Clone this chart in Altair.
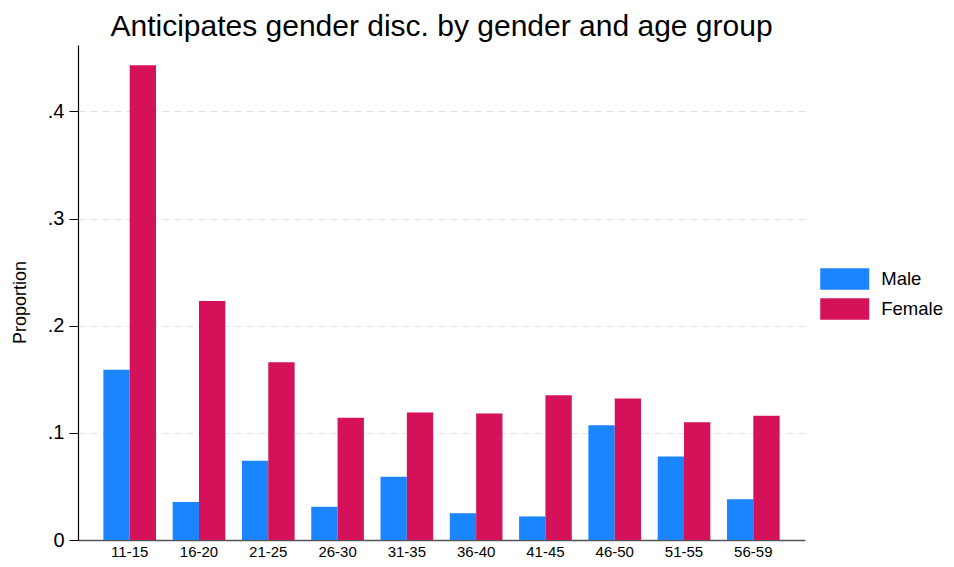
import altair as alt
import pandas as pd

age_groups = ["11-15", "16-20", "21-25", "26-30", "31-35", "36-40", "41-45", "46-50", "51-55", "56-59"]
male = [0.159, 0.0355, 0.074, 0.031, 0.059, 0.025, 0.022, 0.107, 0.078, 0.038]
female = [0.443, 0.223, 0.166, 0.114, 0.119, 0.118, 0.135, 0.132, 0.110, 0.116]
genders = ["Male", "Female"]
colors = ["#1A85FF", "#D41159"]
y_ticks = [0, 0.1, 0.2, 0.3, 0.4]

rows = []
for i, a in enumerate(age_groups):
    rows.append({"age": a, "gender": "Male", "prop": male[i]})
    rows.append({"age": a, "gender": "Female", "prop": female[i]})
df = pd.DataFrame(rows)

font = "Liberation Sans"

chart = alt.Chart(df).mark_bar(strokeWidth=0).encode(
    x=alt.X("age:N", sort=age_groups, title=None,
            scale=alt.Scale(paddingInner=0.24, paddingOuter=0.366),
            axis=alt.Axis(labelAngle=0, labelFontSize=15, labelFont=font, labelColor="#000",
                          ticks=False, domainColor="#555", domainWidth=1.5, labelPadding=4,
                          grid=False)),
    xOffset=alt.XOffset("gender:N", sort=genders, scale=alt.Scale(paddingInner=0, paddingOuter=0)),
    y=alt.Y("prop:Q", title="Proportion",
            scale=alt.Scale(domain=[0, 0.462], nice=False, zero=True),
            axis=alt.Axis(values=y_ticks, labelExpr="datum.value == 0 ? '0' : replace(format(datum.value, '.1f'), '0.', '.')",
                          labelFontSize=20, labelFont=font, labelColor="#000", labelPadding=5,
                          tickSize=9, tickColor="#000", domainColor="#000", domainWidth=1.2,
                          grid=True, gridDash=[7, 5], gridColor="#e3e3e3", gridWidth=1.2,
                          titleFont=font, titleFontSize=18, titleFontWeight="normal", titleColor="#000",
                          titleAngle=-90, titleX=-53, titleY=257, titleAlign="center",
                          titleBaseline="alphabetic")),
    color=alt.Color("gender:N", sort=genders,
                    scale=alt.Scale(domain=genders, range=colors),
                    legend=alt.Legend(title=None, orient="none", legendX=754.25, legendY=221.5,
                                      symbolType="M-2,-0.87H2V0.87H-2Z", symbolSize=600,
                                      symbolStrokeWidth=0, labelFont=font, labelFontSize=18.5,
                                      labelColor="#000", rowPadding=6, labelOffset=24)),
).properties(
    width=727, height=495,
    title=alt.Title("Anticipates gender disc. by gender and age group", font=font, fontSize=30,
                    fontWeight="normal", color="#000", anchor="middle", offset=3),
    autosize=alt.AutoSizeParams(type="none"),
    padding={"left": 70, "top": 37, "right": 140, "bottom": 19},
).configure(background="white").configure_view(strokeWidth=0)

chart.save("out.html", embed_options={"renderer": "svg", "actions": False})
